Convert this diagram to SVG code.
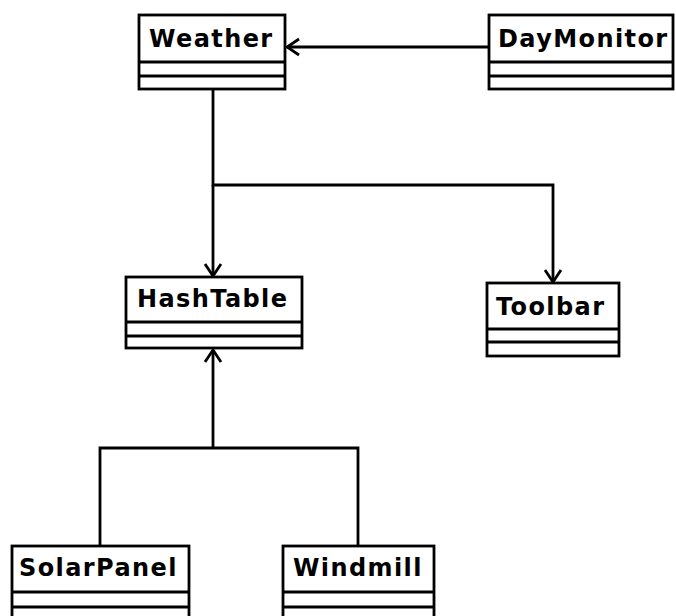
<svg xmlns="http://www.w3.org/2000/svg" width="676" height="616" viewBox="0 0 676 616">
<style>
.box{fill:#fff;stroke:#000;stroke-width:2.8}
.ln{fill:none;stroke:#000;stroke-width:2.8}
.t{font-family:"DejaVu Sans",sans-serif;font-weight:bold;font-size:24px;letter-spacing:1.4px;fill:#000}
</style>
<defs>
<marker id="open" viewBox="0 0 20 20" refX="18" refY="10" markerWidth="20" markerHeight="20" markerUnits="userSpaceOnUse" orient="auto">
<path d="M6,2 L18,10 L6,18" fill="none" stroke="#000" stroke-width="2.8"/>
</marker>
</defs>
<g id="connectors">
<line class="ln" x1="489" y1="47" x2="287" y2="47" marker-end="url(#open)"/>
<path class="ln" d="M213,89 V185 H553 V282" marker-end="url(#open)"/>
<line class="ln" x1="213" y1="185" x2="213" y2="276" marker-end="url(#open)"/>
<path class="ln" d="M100,546 V448 H358 V546"/>
<line class="ln" x1="213" y1="448" x2="213" y2="350" marker-end="url(#open)"/>
</g>
<g id="Weather">
<rect class="box" x="139" y="15" width="146" height="74"/>
<line class="ln" x1="139" y1="62" x2="285" y2="62"/>
<line class="ln" x1="139" y1="76" x2="285" y2="76"/>
<text class="t" x="149" y="47">Weather</text>
</g>
<g id="DayMonitor">
<rect class="box" x="489" y="15" width="184" height="74"/>
<line class="ln" x1="489" y1="62" x2="673" y2="62"/>
<line class="ln" x1="489" y1="76" x2="673" y2="76"/>
<text class="t" x="498" y="47">DayMonitor</text>
</g>
<g id="HashTable">
<rect class="box" x="126" y="277" width="176" height="71"/>
<line class="ln" x1="126" y1="322" x2="302" y2="322"/>
<line class="ln" x1="126" y1="336" x2="302" y2="336"/>
<text class="t" x="137" y="307">HashTable</text>
</g>
<g id="Toolbar">
<rect class="box" x="487" y="283" width="132" height="73"/>
<line class="ln" x1="487" y1="329" x2="619" y2="329"/>
<line class="ln" x1="487" y1="342" x2="619" y2="342"/>
<text class="t" x="496" y="315">Toolbar</text>
</g>
<g id="SolarPanel">
<rect class="box" x="12" y="546" width="177" height="80"/>
<line class="ln" x1="12" y1="592" x2="189" y2="592"/>
<line class="ln" x1="12" y1="607" x2="189" y2="607"/>
<text class="t" x="19" y="576">SolarPanel</text>
</g>
<g id="Windmill">
<rect class="box" x="283" y="546" width="151" height="80"/>
<line class="ln" x1="283" y1="592" x2="434" y2="592"/>
<line class="ln" x1="283" y1="607" x2="434" y2="607"/>
<text class="t" x="293" y="576">Windmill</text>
</g>
</svg>
